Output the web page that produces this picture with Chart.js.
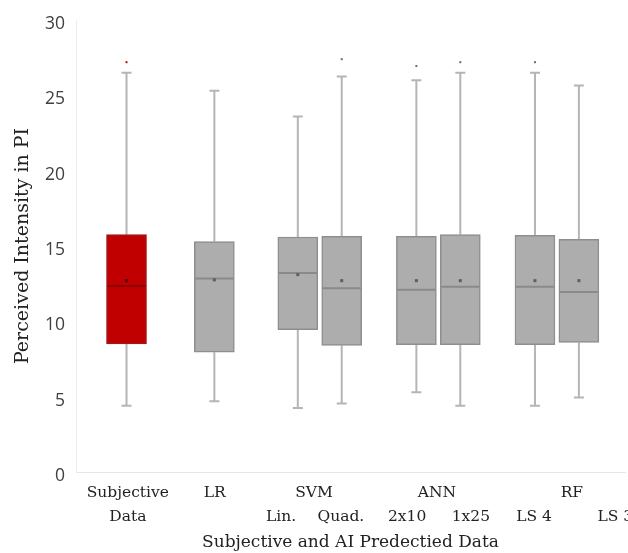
<!DOCTYPE html>
<html>
<head>
<meta charset="utf-8">
<script src="https://cdn.jsdelivr.net/npm/chart.js@4.4.1/dist/chart.umd.min.js"></script>
<style>
  html, body { margin: 0; padding: 0; background: #fff; overflow: hidden; }
  canvas { display: block; }
</style>
</head>
<body>
<canvas id="chart" width="628" height="553"></canvas>
<script>
// one entry per box, left to right
const boxNames = ['Subjective Data', 'LR', 'SVM Lin.', 'SVM Quad.', 'ANN 2x10', 'ANN 1x25', 'RF LS 4', 'RF LS 36'];
const boxSlot = [1.15, 3.15, 5.05, 6.05, 7.75, 8.75, 10.45, 11.45];
const minVals = [4.4, 4.7, 4.25, 4.55, 5.3, 4.4, 4.4, 4.95];
const q1Vals = [8.5, 7.95, 9.45, 8.4, 8.45, 8.45, 8.45, 8.6];
const medianVals = [12.35, 12.85, 13.2, 12.2, 12.1, 12.3, 12.3, 11.95];
const q3Vals = [15.75, 15.3, 15.6, 15.65, 15.65, 15.75, 15.7, 15.45];
const maxVals = [26.5, 25.3, 23.6, 26.25, 26.0, 26.5, 26.5, 25.65];
const meanVals = [12.7, 12.75, 13.1, 12.7, 12.7, 12.7, 12.7, 12.7];
const outlierVals = [[27.2], [], [], [27.4], [26.95], [27.2], [27.2], []];

// x axis labels: group row and sub-label row
const groupLabels = [['Subjective', 'Data'], ['LR'], ['SVM'], ['ANN'], ['RF']];
const groupSlot = [1.18, 3.16, 5.42, 8.22, 11.29];
const subLabels = ['Lin.', 'Quad.', '2x10', '1x25', 'LS 4', 'LS 36'];
const subSlot = [4.67, 6.03, 7.54, 8.99, 10.43, 12.39];

const yTicks = [0, 5, 10, 15, 20, 25, 30];

const RED = '#c00000';
const GRAY = '#adadad';

const xTickList = groupSlot.map((v, i) => ({ value: v, label: groupLabels[i] }))
  .concat(subSlot.map((v, i) => ({ value: v, label: ['', subLabels[i]] })))
  .sort((a, b) => a.value - b.value);

const boxExtras = {
  id: 'boxExtras',
  beforeDatasetsDraw(chart) {
    const { ctx, scales: { x, y } } = chart;
    ctx.save();
    ctx.strokeStyle = '#b5b5b5';
    ctx.lineWidth = 2;
    boxSlot.forEach((s, i) => {
      const px = x.getPixelForValue(s);
      ctx.beginPath();
      ctx.moveTo(px, y.getPixelForValue(maxVals[i]));
      ctx.lineTo(px, y.getPixelForValue(q3Vals[i]));
      ctx.moveTo(px, y.getPixelForValue(q1Vals[i]));
      ctx.lineTo(px, y.getPixelForValue(minVals[i]));
      // caps
      ctx.moveTo(px - 5, y.getPixelForValue(maxVals[i]));
      ctx.lineTo(px + 5, y.getPixelForValue(maxVals[i]));
      ctx.moveTo(px - 5, y.getPixelForValue(minVals[i]));
      ctx.lineTo(px + 5, y.getPixelForValue(minVals[i]));
      ctx.stroke();
    });
    ctx.restore();
  },
  afterDatasetsDraw(chart) {
    const { ctx, scales: { x, y } } = chart;
    ctx.save();
    boxSlot.forEach((s, i) => {
      const px = x.getPixelForValue(s);
      const red = i === 0;
      // median
      ctx.strokeStyle = red ? '#8e0000' : '#8a8a8a';
      ctx.lineWidth = 2;
      const my = y.getPixelForValue(medianVals[i]);
      ctx.beginPath();
      ctx.moveTo(px - 19, my);
      ctx.lineTo(px + 19, my);
      ctx.stroke();
      // mean
      ctx.fillStyle = red ? '#5a0000' : '#5e5e5e';
      const ay = y.getPixelForValue(meanVals[i]);
      ctx.fillRect(px - 1.5, ay - 1.5, 3, 3);
      // outliers
      ctx.fillStyle = red ? RED : '#6a6a6a';
      outlierVals[i].forEach(v => {
        ctx.fillRect(px - 1, y.getPixelForValue(v) - 1, 2, 2);
      });
    });
    ctx.restore();
  }
};

new Chart(document.getElementById('chart'), {
  type: 'bar',
  data: {
    labels: boxNames,
    datasets: [{
      label: 'Perceived Intensity',
      data: boxSlot.map((s, i) => ({ x: s, y: [q1Vals[i], q3Vals[i]] })),
      backgroundColor: boxNames.map((n, i) => i === 0 ? RED : GRAY),
      borderColor: boxNames.map((n, i) => i === 0 ? '#a01818' : '#8e8e8e'),
      borderWidth: 1.5,
      borderSkipped: false,
      barThickness: 40
    }]
  },
  options: {
    responsive: false,
    animation: false,
    layout: { padding: { left: 0, right: 3, top: 20, bottom: 0 } },
    plugins: {
      legend: { display: false },
      tooltip: { enabled: false }
    },
    scales: {
      x: {
        type: 'linear',
        min: 0,
        max: 12.5,
        offset: false,
        grid: { display: false, drawTicks: false },
        border: { color: '#e6e6e6', width: 1 },
        afterBuildTicks: (scale) => { scale.ticks = xTickList.map(t => ({ value: t.value })); },
        afterFit: (scale) => {
          scale.paddingLeft = 0;
          scale.paddingRight = 0;
          scale.height = 81;
        },
        ticks: {
          autoSkip: false,
          maxRotation: 0,
          minRotation: 0,
          padding: 9,
          color: '#222',
          font: { family: 'DejaVu Serif', size: 15.5, lineHeight: 1.55 },
          callback: (v, i) => xTickList[i].label
        },
        title: {
          display: true,
          text: 'Subjective and AI Predectied Data',
          color: '#222',
          font: { family: 'DejaVu Serif', size: 17, lineHeight: 1.2 },
          padding: { top: 0, bottom: 0 }
        }
      },
      y: {
        min: 0,
        max: 30,
        grid: { display: false, drawTicks: false },
        border: { color: '#ececec', width: 1 },
        afterBuildTicks: (scale) => { scale.ticks = yTicks.map(v => ({ value: v })); },
        afterFit: (scale) => {
          scale.width = 76;
          scale.paddingTop = 0;
          scale.paddingBottom = 0;
        },
        ticks: {
          padding: 11,
          labelOffset: 4,
          color: '#404040',
          font: { family: 'Open Sans', size: 17.5 }
        },
        title: {
          display: true,
          text: 'Perceived Intensity in PI',
          color: '#222',
          font: { family: 'DejaVu Serif', size: 19, lineHeight: 1.2 },
          padding: { top: 12, bottom: 0 }
        }
      }
    }
  },
  plugins: [boxExtras]
});
</script>
</body>
</html>
